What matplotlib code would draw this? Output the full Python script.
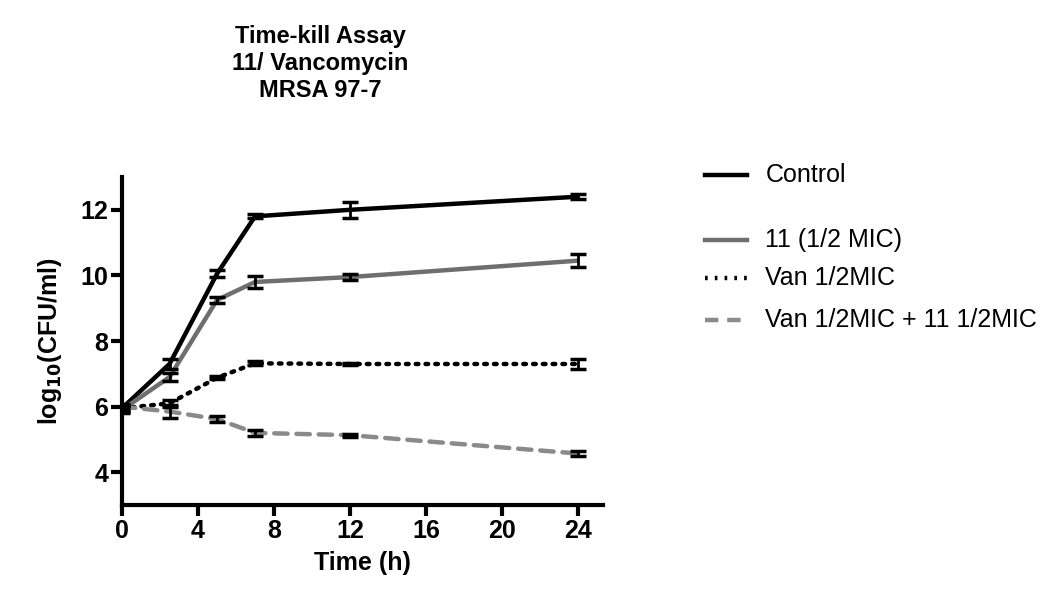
import matplotlib
matplotlib.use("Agg")
import matplotlib.pyplot as plt
from matplotlib.lines import Line2D

plt.rcParams['font.family'] = ['Liberation Sans', 'DejaVu Sans']

# time points (h)
time_h = [0, 2.5, 5, 7, 12, 24]

# log10(CFU/ml) means and error bars
control = [5.95, 7.3, 10.05, 11.8, 12.0, 12.4]
control_err = [0.1, 0.15, 0.1, 0.06, 0.25, 0.08]

cmpd11 = [5.9, 6.9, 9.25, 9.8, 9.95, 10.45]
cmpd11_err = [0.1, 0.12, 0.08, 0.18, 0.1, 0.2]

van = [5.95, 6.1, 6.88, 7.32, 7.3, 7.3]
van_err = [0.08, 0.1, 0.04, 0.06, 0.03, 0.15]

combo = [6.0, 5.85, 5.62, 5.2, 5.13, 4.57]
combo_err = [0.08, 0.2, 0.08, 0.1, 0.05, 0.07]

labels = ["Control", "11 (1/2 MIC)", "Van 1/2MIC", "Van 1/2MIC + 11 1/2MIC"]

fig = plt.figure(figsize=(10.57, 5.9), dpi=100)
ax = fig.add_axes([0.1154, 0.144, 0.455, 0.556])

series = [
    (control, control_err, "black", "-"),
    (cmpd11, cmpd11_err, "#6e6e6e", "-"),
    (van, van_err, "black", (0, (0.6, 1.6))),
    (combo, combo_err, "#8a8a8a", (0, (3.0, 2.0))),
]

for vals, errs, col, ls in series:
    ax.plot(time_h, vals, color=col, lw=3.2, linestyle=ls,
            solid_capstyle='butt', dash_capstyle='round', zorder=2)
    ax.errorbar(time_h, vals, yerr=errs, fmt='none', ecolor='black',
                elinewidth=2, capsize=6, capthick=2.5, zorder=3)

ax.set_xlim(0, 25.3)
ax.set_ylim(3, 13)
ax.set_xticks([0, 4, 8, 12, 16, 20, 24])
ax.set_yticks([4, 6, 8, 10, 12])
for s in ['top', 'right']:
    ax.spines[s].set_visible(False)
for s in ['left', 'bottom']:
    ax.spines[s].set_linewidth(3)
ax.tick_params(width=3, length=8, labelsize=18, pad=2)
for lab in ax.get_xticklabels() + ax.get_yticklabels():
    lab.set_fontweight('bold')

ax.set_xlabel("Time (h)", fontsize=18, fontweight='bold', labelpad=6)
ax.set_ylabel("log$_{\\mathbf{10}}$(CFU/ml)", fontsize=18, fontweight='bold', labelpad=12)

fig.text(0.303, 0.957, "Time-kill Assay\n11/ Vancomycin\nMRSA 97-7",
         ha='center', va='top', fontsize=17, fontweight='bold', linespacing=1.2)

# legend, drawn by hand to keep GraphPad-like spacing
leg_y = [0.703, 0.593, 0.529, 0.458]
for (vals, errs, col, ls), lab, yy in zip(series, labels, leg_y):
    fig.add_artist(Line2D([0.667, 0.707], [yy, yy], color=col, lw=3.2,
                          linestyle=ls, transform=fig.transFigure))
    fig.text(0.724, yy, lab, fontsize=18, va='center', ha='left')

fig.savefig("out.png", dpi=100)
